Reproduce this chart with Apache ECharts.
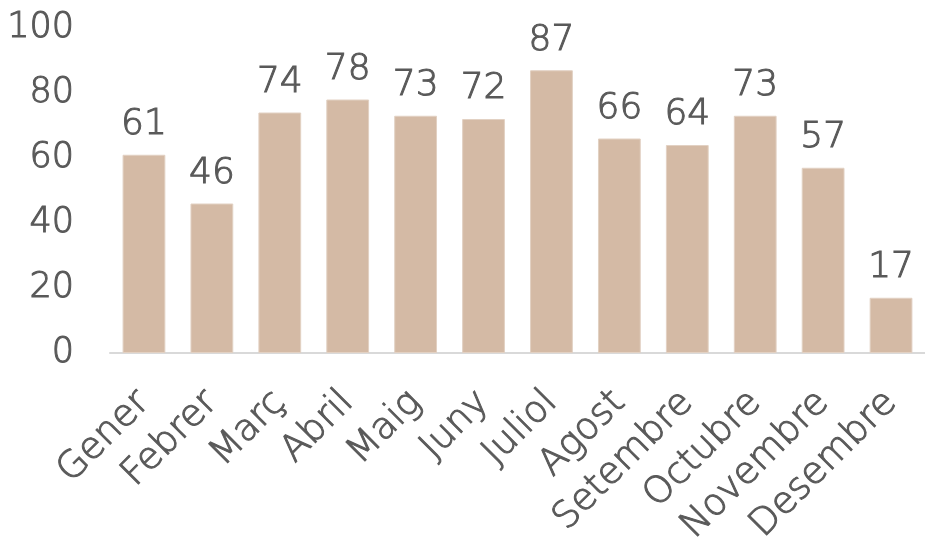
<!DOCTYPE html>
<html><head><meta charset="utf-8">
<script src="https://cdn.jsdelivr.net/npm/echarts@6/dist/echarts.min.js"></script>
<style>html,body{margin:0;padding:0;background:#fff}#c{width:925px;height:540px}</style>
</head><body><div id="c"></div>
<script>
const categories = ['Gener','Febrer','Març','Abril','Maig','Juny','Juliol','Agost','Setembre','Octubre','Novembre','Desembre'];
const values = [61,46,74,78,73,72,87,66,64,73,57,17];
const yTicks = {min:0, max:100, interval:20};
const font = '"DejaVu Sans", sans-serif';
const txt = '#595959';
const thick = {fontWeight:200, fontFamily:font, color:txt, textBorderColor:txt, textBorderWidth:1};
const chart = echarts.init(document.getElementById('c'));
chart.setOption({
  animation:false,
  grid:{left:110,right:0,top:28,bottom:187,containLabel:false,outerBoundsMode:'none'},
  xAxis:{type:'category',data:categories,
    axisLine:{lineStyle:{color:'#D9D9D9',width:2}},axisTick:{show:false},
    axisLabel:Object.assign({rotate:45,fontSize:37,margin:44,interval:0},thick)},
  yAxis:{type:'value',min:yTicks.min,max:yTicks.max,interval:yTicks.interval,
    splitLine:{show:false},axisLine:{show:false},axisTick:{show:false},
    axisLabel:Object.assign({fontSize:35,margin:36},thick)},
  series:[{type:'bar',data:values,barWidth:'63%',
    itemStyle:{color:'#D4BAA5',borderColor:'#E2D1C3',borderWidth:1},
    label:Object.assign({show:true,position:'top',distance:12,fontSize:36},thick)}]
});
</script></body></html>
